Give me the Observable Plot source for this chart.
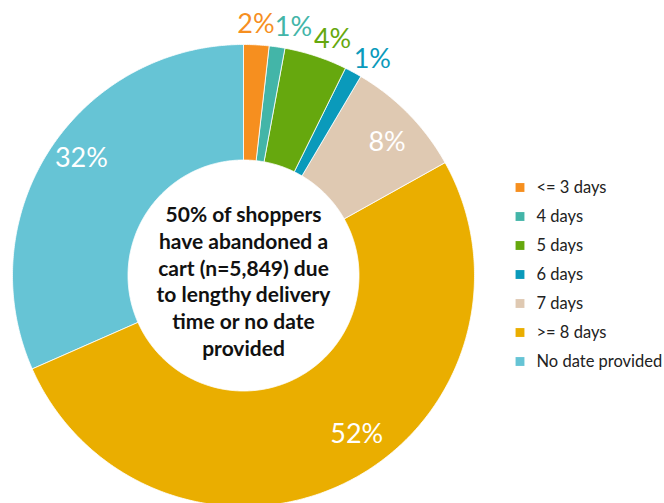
<!DOCTYPE html>
<html>
<head>
<meta charset="utf-8">
<script src="https://cdn.jsdelivr.net/npm/d3@7"></script>
<script src="https://cdn.jsdelivr.net/npm/@observablehq/plot@0.6"></script>
<style>
  html, body { margin: 0; padding: 0; background: #fff; overflow: hidden; }
  #wrap { position: relative; width: 664px; height: 503px; overflow: hidden; }
  #donut { position: absolute; left: 0; top: 0; }
  #legend { position: absolute; left: 508px; top: 170px; }
</style>
</head>
<body>
<div id="wrap"><div id="donut"></div><div id="legend"></div></div>
<script>
// ---- data ----
const categories = ["<= 3 days", "4 days", "5 days", "6 days", "7 days", ">= 8 days", "No date provided"];
const shares = [1.8, 1.1, 4.4, 1.2, 8.4, 51.5, 31.6];
const labels = ["2%", "1%", "4%", "1%", "8%", "52%", "32%"];
const colors = ["#F68F1F", "#43B5A8", "#66A80E", "#0A9ABB", "#DFC9B2", "#EAAE00", "#66C4D5"];
const centerText = "50% of shoppers\nhave abandoned a\ncart (n=5,849) due\nto lengthy delivery\ntime or no date\nprovided";

// ---- layout (label placement: angle in degrees clockwise from top, radius relative to outer) ----
const labelPolar = [[2.85, 1.088], [11.4, 1.095], [20.7, 1.091], [30.8, 1.089], [47.2, 0.847], [144.5, 0.844], [305.8, 0.865]];
const innerRatio = 0.5;

const pt = (deg, r) => { const a = deg * Math.PI / 180; return [r * Math.sin(a), -r * Math.cos(a)]; };
const total = d3.sum(shares);
let acc = 0;
const slices = categories.map((c, i) => {
  const a0 = acc / total * 360; acc += shares[i]; const a1 = acc / total * 360;
  const n = Math.max(2, Math.ceil((a1 - a0) / 0.5));
  const ring = [];
  for (let k = 0; k <= n; k++) ring.push(pt(a0 + (a1 - a0) * k / n, 1));
  for (let k = n; k >= 0; k--) ring.push(pt(a0 + (a1 - a0) * k / n, innerRatio));
  ring.push(ring[0]);
  const [lx, ly] = pt(labelPolar[i][0], labelPolar[i][1]);
  return {category: c, value: shares[i], label: labels[i], geometry: {type: "Polygon", coordinates: [ring]}, lx, ly};
});

const colorScale = {type: "ordinal", domain: categories, range: colors};

const chart = Plot.plot({
  width: 486, height: 506,
  marginLeft: 12, marginRight: 12, marginTop: 44, marginBottom: 0,
  projection: {type: "identity", clip: false, domain: {type: "MultiPoint", coordinates: [[-1, -1], [1, 1]]}},
  color: colorScale,
  style: {fontFamily: "Lato, sans-serif", background: "white", overflow: "visible"},
  marks: [
    Plot.geo(slices, {geometry: "geometry", fill: "category", stroke: "white", strokeWidth: 0.8, clip: false}),
    Plot.text(slices.filter(d => d.value < 5), {x: "lx", y: "ly", text: "label", fill: "category", fontSize: 27, clip: false}),
    Plot.text(slices.filter(d => d.value >= 5), {x: "lx", y: "ly", text: "label", fill: "white", fontSize: 27, clip: false}),
    Plot.text([centerText], {frameAnchor: "middle", dy: 5, text: d => d, fontSize: 21, fontWeight: "bold", lineHeight: 1.27, fill: "#111"})
  ]
});
document.getElementById("donut").appendChild(chart);

const legend = Plot.plot({
  width: 156, height: 210,
  marginLeft: 0, marginRight: 0, marginTop: 15, marginBottom: 17,
  y: {type: "point", domain: categories, padding: 0, axis: null},
  color: colorScale,
  style: {fontFamily: "Lato, sans-serif", background: "white", overflow: "visible"},
  marks: [
    Plot.dot(categories, {y: d => d, fill: d => d, symbol: "square", r: 5, frameAnchor: "left", dx: 11.5}),
    Plot.text(categories, {y: d => d, text: d => d, frameAnchor: "left", dx: 28, textAnchor: "start", fontSize: 16.5, fill: "#222"})
  ]
});
document.getElementById("legend").appendChild(legend);
</script>
</body>
</html>
